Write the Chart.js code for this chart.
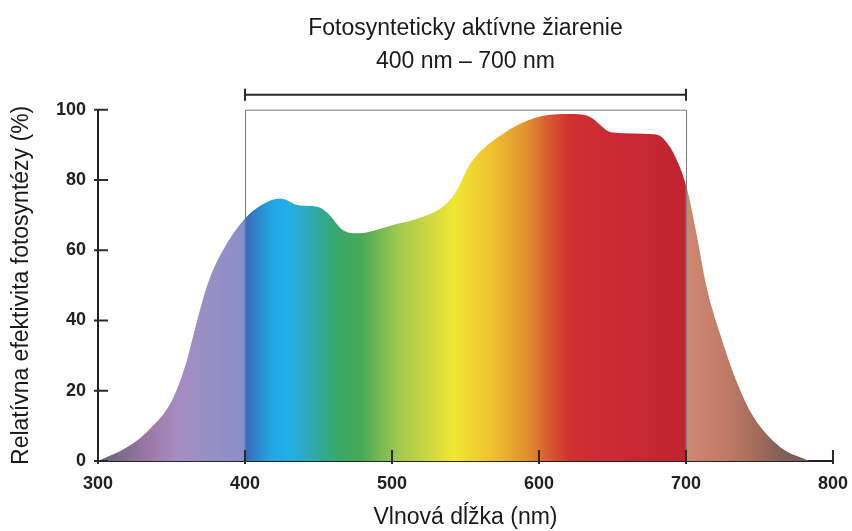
<!DOCTYPE html>
<html>
<head>
<meta charset="utf-8">
<script src="https://cdn.jsdelivr.net/npm/chart.js@4"></script>
<style>
  html, body { margin: 0; padding: 0; background: #fff; }
  #wrap { width: 852px; height: 531px; }
</style>
</head>
<body>
<div id="wrap"><canvas id="spektrum"></canvas></div>
<script>
// vlnova dlzka (nm) a relativna efektivita fotosyntezy (%)
const vlnoveDlzky = [300, 320, 335, 350, 360, 365, 370, 376, 385, 400, 415, 424, 437, 449, 456, 467, 476, 499, 521, 535, 544, 553, 575, 598, 621, 633, 650, 678, 684, 694, 701, 707, 714, 723, 735, 746, 764, 784];
const efektivita = [0, 4, 9, 17, 28, 36, 44, 52, 60, 69, 73.7, 74.7, 72.7, 72.4, 70.7, 65.6, 64.8, 67, 69.5, 72.5, 77, 84.5, 93, 97.8, 98.8, 98.3, 93.5, 93, 92, 85.5, 77, 65, 49.5, 36.4, 22, 12.5, 4, 0];
const xTicks = [300, 400, 500, 600, 700, 800];
const yTicks = [0, 20, 40, 60, 80, 100];
const parOd = 400, parDo = 700;

// farby spektra
const spektrum = [
    [300, '#6e5e7e'], [314, '#7a6a88'], [334, '#9a78a8'], [354, '#a68cc0'], [375, '#9890c4'], [399.5, '#8a8ec8'],
    [400, '#3a68b6'], [418, '#22a6e0'], [429, '#20b0e8'], [448, '#30a8a8'], [463, '#38a868'], [479, '#48a858'],
    [504, '#a0c850'], [526, '#d0d840'], [542, '#f0e830'], [569, '#f0c030'], [592, '#e09030'], [607, '#d85830'],
    [621, '#d03030'], [648, '#cc2a34'], [699.5, '#c02430'],
    [700, '#d08870'], [728, '#c07a68'], [750, '#a06a5a'], [764, '#806058'], [800, '#6a5850']
];

function vyplnSpektra(context) {
    const chart = context.chart;
    const area = chart.chartArea;
    if (!area) return '#999';
    const x = chart.scales.x;
    const g = chart.ctx.createLinearGradient(area.left, 0, area.right, 0);
    spektrum.forEach(function (s) {
        const t = (x.getPixelForValue(s[0]) - area.left) / (area.right - area.left);
        g.addColorStop(Math.min(1, Math.max(0, t)), s[1]);
    });
    return g;
}

// ramcek PAR, zatvorka a tyce smerom dnu
const doplnky = {
    id: 'doplnky',
    afterDatasetsDraw(chart) {
        const ctx = chart.ctx;
        const x = chart.scales.x, y = chart.scales.y;
        const x1 = x.getPixelForValue(parOd), x2 = x.getPixelForValue(parDo);
        const y0 = y.getPixelForValue(0), y100 = y.getPixelForValue(100);
        ctx.save();
        ctx.strokeStyle = '#7a7a7a';
        ctx.lineWidth = 1;
        ctx.beginPath();
        ctx.moveTo(x1 + 0.5, y0);
        ctx.lineTo(x1 + 0.5, y100 + 0.5);
        ctx.lineTo(x2 + 0.5, y100 + 0.5);
        ctx.lineTo(x2 + 0.5, y0);
        ctx.stroke();

        ctx.strokeStyle = '#2a2a2a';
        ctx.lineWidth = 2;
        const yb = y100 - 15;
        ctx.beginPath();
        ctx.moveTo(x1, yb); ctx.lineTo(x2, yb);
        ctx.moveTo(x1, yb - 6); ctx.lineTo(x1, yb + 6);
        ctx.moveTo(x2, yb - 6); ctx.lineTo(x2, yb + 6);
        ctx.stroke();

        ctx.beginPath();
        xTicks.forEach(function (v) {
            const px = x.getPixelForValue(v);
            ctx.moveTo(px, y0 + 3); ctx.lineTo(px, y0 - 11);
        });
        yTicks.forEach(function (v) {
            const py = y.getPixelForValue(v);
            ctx.moveTo(x.left - 4, py); ctx.lineTo(x.left + 10, py);
        });
        ctx.stroke();
        ctx.restore();
    }
};

new Chart(document.getElementById('spektrum'), {
    type: 'line',
    data: {
        datasets: [{
            label: 'Relatívna efektivita fotosyntézy',
            data: vlnoveDlzky.map(function (v, i) { return { x: v, y: efektivita[i] }; }),
            fill: 'origin',
            backgroundColor: vyplnSpektra,
            borderWidth: 0,
            pointRadius: 0,
            cubicInterpolationMode: 'monotone'
        }]
    },
    options: {
        responsive: true,
        maintainAspectRatio: false,
        animation: false,
        layout: { padding: { right: 13, top: 0, left: 0, bottom: 0 } },
        plugins: {
            legend: { display: false },
            tooltip: { enabled: false },
            title: {
                display: true,
                fullSize: false,
                text: ['Fotosynteticky aktívne žiarenie', '400 nm – 700 nm'],
                color: '#1a1a1a',
                font: { family: '"Liberation Sans Narrow", "Liberation Sans", sans-serif', size: 23, weight: 'normal', lineHeight: 1.45 },
                padding: { top: 12, bottom: 31 }
            }
        },
        scales: {
            x: {
                type: 'linear',
                min: 300,
                max: 800,
                afterBuildTicks: function (s) { s.ticks = xTicks.map(function (v) { return { value: v }; }); },
                afterFit: function (s) { s.height = 70; },
                grid: { display: false },
                border: { display: true, color: '#222', width: 2 },
                ticks: {
                    color: '#222',
                    padding: 4,
                    maxRotation: 0,
                    font: { family: '"Liberation Sans", Arial, sans-serif', size: 18, weight: 'bold' }
                },
                title: {
                    display: true,
                    text: 'Vlnová dĺžka (nm)',
                    color: '#1a1a1a',
                    padding: { top: 0, bottom: 0 },
                    font: { family: '"Liberation Sans Narrow", "Liberation Sans", sans-serif', size: 23, weight: 'normal', lineHeight: 1.2 }
                }
            },
            y: {
                min: 0,
                max: 100,
                afterBuildTicks: function (s) { s.ticks = yTicks.map(function (v) { return { value: v }; }); },
                afterFit: function (s) { s.width = 98; },
                grid: { display: false },
                border: { display: true, color: '#222', width: 2 },
                ticks: {
                    color: '#222',
                    padding: 4,
                    font: { family: '"Liberation Sans", Arial, sans-serif', size: 18, weight: 'bold' }
                },
                title: {
                    display: true,
                    text: 'Relatívna efektivita fotosyntézy (%)',
                    color: '#1a1a1a',
                    padding: { top: 8, bottom: 0 },
                    font: { family: '"Liberation Sans Narrow", "Liberation Sans", sans-serif', size: 23, weight: 'normal', lineHeight: 1.2 }
                }
            }
        }
    },
    plugins: [doplnky]
});
</script>
</body>
</html>
